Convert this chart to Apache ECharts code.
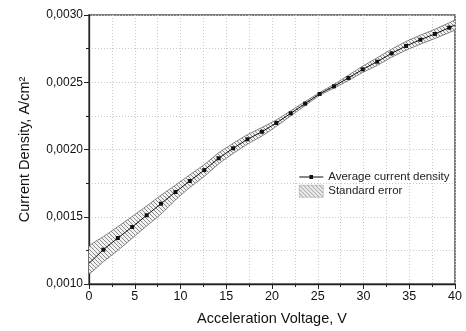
<!DOCTYPE html>
<html>
<head>
<meta charset="utf-8">
<script src="https://cdn.jsdelivr.net/npm/echarts@6/dist/echarts.min.js"></script>
<style>
  html, body { margin: 0; padding: 0; background: #fff; }
  #chart { width: 466px; height: 331px; }
</style>
</head>
<body>
<div id="chart"></div>
<script>
// values
const voltage = [0, 1.57, 3.15, 4.72, 6.3, 7.87, 9.45, 11.02, 12.6, 14.17, 15.75, 17.32, 18.9,
    20.47, 22.05, 23.62, 25.2, 26.77, 28.35, 29.92, 31.5, 33.07, 34.65, 36.22, 37.8, 39.37, 40];
const currentDensity = [0.001154, 0.001255, 0.001342, 0.001424, 0.001511, 0.001597, 0.001684,
    0.001766, 0.001847, 0.001935, 0.002009, 0.002076, 0.002132, 0.002197, 0.002269, 0.002341,
    0.002413, 0.002470, 0.002532, 0.002596, 0.002653, 0.002715, 0.002770, 0.002816, 0.002859,
    0.002906, 0.002926];
const errorUpper = [0.001277, 0.001352, 0.001426, 0.001502, 0.001580, 0.001660, 0.001735,
    0.001812, 0.001888, 0.001975, 0.002046, 0.002110, 0.002164, 0.002220, 0.002288, 0.002356,
    0.002423, 0.002484, 0.002552, 0.002620, 0.002682, 0.002746, 0.002803, 0.002850, 0.002894,
    0.002942, 0.002962];
const errorLower = [0.001080, 0.001166, 0.001250, 0.001340, 0.001432, 0.001520, 0.001625,
    0.001718, 0.001800, 0.001893, 0.001970, 0.002040, 0.002100, 0.002172, 0.002250, 0.002326,
    0.002402, 0.002456, 0.002513, 0.002573, 0.002625, 0.002686, 0.002738, 0.002783, 0.002825,
    0.002870, 0.002890];

const lineName = 'Average current density';
const bandName = 'Standard error';
const font = '"Liberation Sans", Arial, sans-serif';

// hatch pattern for the error band
const makeHatch = () => {
    const c = document.createElement('canvas');
    c.width = 4;
    c.height = 4;
    const ctx = c.getContext('2d');
    ctx.fillStyle = '#f2f2f2';
    ctx.fillRect(0, 0, 4, 4);
    ctx.strokeStyle = '#7e7e7e';
    ctx.lineWidth = 0.9;
    ctx.beginPath();
    ctx.moveTo(-1, -1);
    ctx.lineTo(5, 5);
    ctx.moveTo(3, -1);
    ctx.lineTo(5, 1);
    ctx.moveTo(-1, 3);
    ctx.lineTo(1, 5);
    ctx.stroke();
    return { image: c, repeat: 'repeat' };
};
const hatch = makeHatch();

const lineData = voltage.map((v, i) => {
    const item = { value: [v, currentDensity[i]] };
    if (i === 0 || i === voltage.length - 1) item.symbol = 'none';
    return item;
});
const bandData = voltage.map((v, i) => [v, errorLower[i], errorUpper[i]]);

const myChart = echarts.init(document.getElementById('chart'));

const option = {
    animation: false,
    textStyle: { fontFamily: font },
    grid: {
        left: 89, right: 11, top: 15, bottom: 47,
        show: true, borderColor: '#555', borderWidth: 1.5, backgroundColor: '#fff'
    },
    legend: {
        orient: 'vertical',
        left: 294,
        top: 166,
        itemWidth: 24,
        itemHeight: 12,
        itemGap: 2,
        textStyle: { fontFamily: font, fontSize: 11.5, color: '#222' },
        data: [
            { name: lineName, icon: 'path://M0,4.5H24V5.5H0Z M10.2,3H13.8V7H10.2Z' },
            { name: bandName, icon: 'rect', itemStyle: { color: hatch, borderColor: '#999', borderWidth: 0.5 } }
        ]
    },
    xAxis: {
        type: 'value',
        min: 0,
        max: 40,
        interval: 5,
        name: 'Acceleration Voltage, V',
        nameLocation: 'middle',
        nameGap: 27,
        nameTextStyle: { fontFamily: font, fontSize: 14.5, color: '#111' },
        axisLine: { lineStyle: { color: '#222', width: 1.3 } },
        axisTick: { length: 5, lineStyle: { color: '#222' } },
        minorTick: { show: true, splitNumber: 2, length: 3, lineStyle: { color: '#222' } },
        axisLabel: { fontFamily: font, fontSize: 12.5, color: '#111', margin: 6 },
        splitLine: { lineStyle: { color: '#c8c8c8', type: [1, 2] } },
        minorSplitLine: { show: true, lineStyle: { color: '#c8c8c8', type: [1, 2] } }
    },
    yAxis: {
        type: 'value',
        min: 0.001,
        max: 0.003,
        interval: 0.0005,
        name: 'Current Density, A/cm²',
        nameLocation: 'middle',
        nameGap: 57,
        nameTextStyle: { fontFamily: font, fontSize: 14.5, color: '#111' },
        axisLine: { show: true, lineStyle: { color: '#222', width: 1.3 } },
        axisTick: { show: true, length: 5, lineStyle: { color: '#222' } },
        minorTick: { show: true, splitNumber: 2, length: 3, lineStyle: { color: '#222' } },
        axisLabel: {
            fontFamily: font, fontSize: 12, color: '#111', margin: 6,
            formatter: (v) => v.toFixed(4).replace('.', ',')
        },
        splitLine: { lineStyle: { color: '#c8c8c8', type: [1, 2] } },
        minorSplitLine: { show: true, lineStyle: { color: '#c8c8c8', type: [1, 2] } }
    },
    series: [
        {
            name: bandName,
            type: 'custom',
            itemStyle: { color: hatch },
            clip: true,
            z: 2,
            data: bandData,
            renderItem: (params, api) => {
                if (params.dataIndex !== 0) return;
                const pts = [];
                for (let i = 0; i < voltage.length; i++) {
                    pts.push(api.coord([voltage[i], errorUpper[i]]));
                }
                for (let i = voltage.length - 1; i >= 0; i--) {
                    pts.push(api.coord([voltage[i], errorLower[i]]));
                }
                return {
                    type: 'polygon',
                    shape: { points: pts, smooth: 0.2 },
                    style: { fill: hatch, stroke: '#666', lineWidth: 0.8 }
                };
            }
        },
        {
            name: lineName,
            type: 'line',
            z: 3,
            data: lineData,
            symbol: 'rect',
            symbolSize: 4,
            showAllSymbol: true,
            itemStyle: { color: '#111' },
            lineStyle: { color: '#111', width: 1 }
        }
    ]
};

myChart.setOption(option);
</script>
</body>
</html>
